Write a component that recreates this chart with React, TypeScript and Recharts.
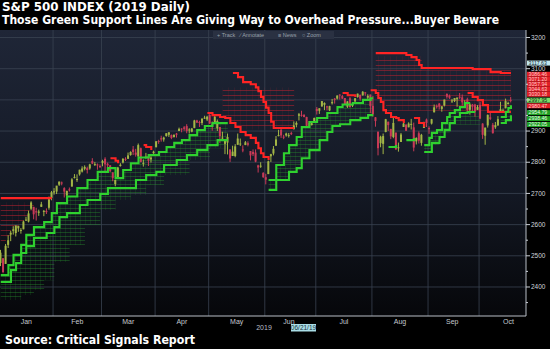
import {
  ComposedChart,
  Bar,
  Line,
  Area,
  XAxis,
  YAxis,
  CartesianGrid,
  ReferenceDot,
} from "recharts";

// x axis: trading-day index, Jan 2 2019 = 0 ... Oct 17 2019 = 200
const months = ["Jan", "Feb", "Mar", "Apr", "May", "Jun", "Jul", "Aug", "Sep", "Oct"];
const monthTicks = [10, 30, 50, 71, 92.5, 113, 134.5, 156.5, 177, 199];
const monthStarts = [20.5, 39.5, 60.5, 81.5, 103.5, 123.5, 145.5, 167.5, 187.5];
const priceTicks = [2350, 2400, 2450, 2500, 2550, 2600, 2650, 2700, 2750, 2800, 2850, 2900, 2950, 3000, 3050, 3100, 3150, 3200];
const gridLevels = [2400, 2500, 2600, 2700, 2800, 2900, 3000, 3100, 3200];

const open = [
  2477, 2492, 2474, 2535, 2568, 2580, 2573, 2588, 2580, 2585, 2614, 2610, 2651, 2657, 2643, 2638, 2657, 2644, 2644, 2654, 2685,
  2703, 2706, 2728, 2735, 2717, 2693, 2713, 2722, 2751, 2744, 2761, 2770, 2779, 2781, 2780, 2804, 2793, 2793, 2788,
  2798, 2811, 2795, 2790, 2767, 2730, 2747, 2788, 2799, 2811, 2811, 2823, 2841, 2831, 2819, 2845, 2797, 2813, 2820, 2809, 2829,
  2848, 2868, 2877, 2873, 2884, 2888, 2887, 2881, 2892, 2900, 2908, 2912, 2916, 2904, 2898, 2910, 2934, 2929, 2926, 2941, 2937,
  2952, 2922, 2929, 2909, 2913, 2879, 2859, 2863, 2841, 2820, 2820, 2856, 2859, 2841, 2855, 2861, 2836, 2833, 2831, 2790, 2786, 2766,
  2752, 2762, 2819, 2828, 2853, 2886, 2904, 2882, 2886, 2886, 2894, 2906, 2920, 2949, 2952, 2952, 2945, 2926, 2919, 2932,
  2971, 2965, 2979, 2984, 2979, 2966, 2989, 3004, 3004, 3017, 3012, 3006, 2978, 3005, 2982, 2995, 3009, 3016, 3014, 3024, 3007, 3017,
  2981, 2944, 2898, 2861, 2859, 2897, 2930, 2907, 2881, 2895, 2847, 2865, 2913, 2920, 2912, 2923, 2912, 2867, 2893, 2862, 2910, 2937,
  2910, 2924, 2960, 2980, 2988, 2971, 2982, 3019, 3013, 2996, 2996, 3002, 3010, 3008, 2983, 3002, 2968, 2985, 2985, 2968,
  2984, 2924, 2885, 2918, 2944, 2920, 2912, 2918, 2964, 2965, 2973, 2990, 3000,
];
const high = [
  2519, 2493, 2538, 2566, 2580, 2595, 2597, 2596, 2589, 2613, 2625, 2645, 2675, 2657, 2654, 2648, 2673, 2647, 2652, 2690, 2708,
  2717, 2724, 2738, 2738, 2720, 2709, 2719, 2749, 2762, 2761, 2776, 2787, 2790, 2786, 2795, 2813, 2801, 2796, 2793,
  2808, 2816, 2799, 2791, 2768, 2744, 2785, 2797, 2813, 2816, 2831, 2835, 2852, 2843, 2860, 2847, 2809, 2830, 2825, 2819, 2837,
  2868, 2872, 2885, 2882, 2893, 2896, 2889, 2889, 2894, 2911, 2909, 2916, 2922, 2909, 2910, 2936, 2936, 2933, 2940, 2949, 2949,
  2954, 2931, 2948, 2937, 2913, 2898, 2870, 2892, 2841, 2853, 2858, 2892, 2876, 2854, 2868, 2867, 2836, 2841, 2841, 2792, 2800, 2768,
  2763, 2805, 2827, 2852, 2884, 2904, 2910, 2888, 2895, 2894, 2898, 2931, 2931, 2958, 2965, 2954, 2946, 2932, 2929, 2943,
  2977, 2973, 2996, 2992, 2981, 2981, 3003, 3006, 3014, 3018, 3016, 3006, 2996, 3009, 2990, 3006, 3020, 3017, 3028, 3025, 3018, 3017,
  3013, 2945, 2898, 2885, 2892, 2939, 2930, 2907, 2943, 2895, 2863, 2894, 2932, 2923, 2928, 2939, 2927, 2880, 2899, 2891, 2930, 2940,
  2915, 2939, 2985, 2985, 2990, 2980, 3001, 3021, 3017, 3003, 3006, 3008, 3022, 3017, 2999, 3007, 2989, 2987, 2987, 2983,
  2993, 2925, 2911, 2953, 2959, 2926, 2929, 2948, 2994, 2972, 3004, 2994, 3009,
];
const low = [
  2467, 2444, 2474, 2525, 2547, 2568, 2562, 2577, 2571, 2585, 2612, 2607, 2647, 2617, 2613, 2628, 2657, 2627, 2634, 2648, 2678,
  2696, 2698, 2724, 2726, 2687, 2682, 2706, 2722, 2748, 2737, 2757, 2767, 2774, 2764, 2776, 2794, 2788, 2776, 2782,
  2787, 2767, 2784, 2769, 2739, 2723, 2747, 2786, 2796, 2804, 2811, 2821, 2823, 2818, 2817, 2800, 2786, 2812, 2788, 2799, 2827,
  2848, 2859, 2866, 2866, 2882, 2881, 2874, 2879, 2879, 2900, 2896, 2901, 2893, 2892, 2896, 2909, 2926, 2913, 2919, 2939, 2932,
  2923, 2901, 2929, 2900, 2862, 2870, 2826, 2825, 2801, 2820, 2816, 2856, 2852, 2832, 2855, 2851, 2806, 2820, 2800, 2767, 2782, 2750,
  2729, 2762, 2801, 2822, 2853, 2883, 2878, 2874, 2882, 2879, 2887, 2905, 2912, 2934, 2946, 2944, 2912, 2912, 2918, 2929,
  2953, 2955, 2978, 2967, 2966, 2964, 2985, 2988, 3001, 3001, 3003, 2984, 2974, 2975, 2977, 2988, 3007, 2997, 3014, 3013, 3001, 2958,
  2946, 2914, 2822, 2848, 2826, 2896, 2900, 2874, 2877, 2840, 2834, 2865, 2913, 2900, 2912, 2905, 2835, 2857, 2860, 2853, 2910, 2913,
  2891, 2921, 2960, 2972, 2969, 2962, 2979, 3004, 3003, 2990, 2993, 2978, 3003, 2982, 2982, 2957, 2953, 2963, 2946, 2968,
  2938, 2875, 2856, 2911, 2935, 2892, 2907, 2917, 2964, 2962, 2973, 2985, 2992,
];
const close = [
  2510, 2448, 2532, 2550, 2574, 2585, 2597, 2596, 2583, 2610, 2616, 2636, 2671, 2633, 2639, 2642, 2665, 2644, 2640, 2681, 2704,
  2707, 2725, 2738, 2732, 2706, 2708, 2710, 2745, 2753, 2746, 2776, 2780, 2785, 2775, 2793, 2796, 2794, 2792, 2784,
  2804, 2793, 2790, 2771, 2749, 2743, 2783, 2792, 2811, 2808, 2822, 2833, 2833, 2824, 2855, 2801, 2798, 2818, 2805, 2815, 2834,
  2867, 2867, 2873, 2879, 2893, 2896, 2878, 2888, 2888, 2907, 2906, 2907, 2900, 2905, 2908, 2934, 2927, 2926, 2940, 2943, 2946,
  2924, 2918, 2946, 2932, 2884, 2879, 2871, 2881, 2812, 2834, 2851, 2876, 2860, 2840, 2864, 2856, 2822, 2826, 2802, 2783, 2789, 2752,
  2744, 2803, 2826, 2843, 2873, 2887, 2886, 2880, 2892, 2887, 2890, 2918, 2926, 2954, 2950, 2945, 2917, 2914, 2925, 2942,
  2964, 2973, 2996, 2990, 2976, 2980, 2993, 3000, 3014, 3014, 3004, 2984, 2995, 2977, 2985, 3005, 3020, 3004, 3026, 3021, 3013, 2980,
  2954, 2932, 2845, 2882, 2884, 2938, 2919, 2883, 2926, 2841, 2848, 2889, 2924, 2901, 2924, 2923, 2847, 2878, 2869, 2888, 2925, 2926,
  2906, 2938, 2976, 2979, 2978, 2979, 3001, 3010, 3007, 2998, 3006, 3007, 3007, 2992, 2992, 2967, 2985, 2978, 2962, 2977,
  2940, 2888, 2911, 2952, 2939, 2893, 2919, 2938, 2970, 2966, 2996, 2990, 2998,
];

// support / resistance staircases as [day index, level] steps
const greenUpper1 = [[0, 2438], [3, 2470], [5, 2503], [8, 2535], [10, 2567], [13, 2592], [17, 2608], [20, 2637], [22, 2669], [26, 2690], [30, 2717], [34, 2743], [38, 2769], [42, 2781], [45, 2749], [48, 2775], [51, 2797], [54, 2815], [58, 2823], [62, 2833], [65, 2849], [68, 2862], [71, 2871], [74, 2887], [77, 2903], [80, 2916], [83, 2926], [89, 2926]];
const greenLower1 = [[0, 2416], [4, 2454], [6, 2477], [8, 2509], [10, 2531], [13, 2557], [18, 2573], [21, 2592], [23, 2624], [26, 2637], [31, 2663], [34, 2679], [39, 2698], [42, 2717], [53, 2743], [57, 2759], [61, 2769], [64, 2791], [69, 2807], [73, 2823], [77, 2839], [81, 2855], [85, 2871], [89, 2871]];
const greenFloor1 = [[0, 2358], [8, 2374], [13, 2390], [17, 2422], [21, 2480], [27, 2535], [33, 2599], [39, 2647], [45, 2679], [51, 2695], [57, 2727], [64, 2759], [74, 2807], [82, 2845], [89, 2862]];
const greenUpper2 = [[105, 2743], [108, 2791], [111, 2829], [113, 2855], [116, 2881], [118, 2913], [121, 2929], [124, 2942], [128, 2958], [132, 2977], [134, 2985], [138, 2990], [142, 3000], [145, 3005], [146, 3005]];
const greenLower2 = [[105, 2711], [108, 2743], [113, 2769], [116, 2781], [118, 2813], [121, 2839], [125, 2871], [128, 2897], [130, 2916], [133, 2922], [137, 2935], [141, 2942], [144, 2951], [146, 2951]];
const greenBitA = [[152, 2849], [155, 2855]];
const greenBitB = [[159, 2871], [162, 2878]];
const greenUpper3 = [[166, 2855], [168, 2878], [169, 2894], [171, 2903], [173, 2926], [175, 2945], [176, 2958], [178, 2967], [180, 2977], [182, 2990], [184, 2990]];
const greenLower3 = [[166, 2833], [169, 2862], [172, 2881], [174, 2903], [176, 2926], [178, 2945], [180, 2958], [183, 2961], [186, 2961]];
const greenMeshTop3 = [[166, 2855], [168, 2878], [169, 2894], [171, 2903], [173, 2926], [175, 2945], [176, 2958], [178, 2967], [180, 2977], [182, 2990], [184, 2958], [188, 2958]];
const greenMeshBot3 = [[166, 2830], [169, 2855], [172, 2875], [174, 2895], [176, 2915], [178, 2920], [188, 2920]];
const greenUpper4 = [[196, 2945], [198, 2961], [199, 2974], [200, 2983]];
const greenLower4 = [[196, 2926], [198, 2935], [200, 2951]];

const redTop0 = [[0, 2685], [20, 2685]];
const redMeshTop0 = [[0, 2672], [13, 2672]];
const redMeshBot0 = [[0, 2540], [2, 2560], [4, 2585], [7, 2605], [9, 2625], [11, 2645], [13, 2672]];
const redUpper1 = [[91, 3086], [93, 3073], [95, 3057], [98, 3050], [100, 3040], [101, 3028], [102, 3009], [103, 2993], [104, 2975], [105, 2958], [106, 2930], [107, 2910], [115, 2910]];
const redLower1 = [[81, 2958], [83, 2951], [86, 2945], [88, 2942], [90, 2926], [92, 2913], [94, 2897], [96, 2887], [98, 2878], [100, 2862], [101, 2845], [102, 2829], [103, 2817], [105, 2807]];
const redMeshTop1 = [[87, 3040], [115, 3030]];
const redMeshBot1 = [[87, 2945], [90, 2926], [92, 2913], [93, 2905], [115, 2905]];
const redBitA = [[43, 2813], [45, 2805], [46, 2797]];
const redBitB = [[56, 2855], [57, 2849], [59, 2839]];
const redBitC = [[134, 3022], [136, 3015], [139, 3009]];
const redBitD = [[162, 2942], [164, 2926], [166, 2913]];
const redUpper2 = [[147, 3150], [159, 3144], [161, 3137], [163, 3128], [164, 3112], [165, 3102], [185, 3099], [192, 3089], [196, 3086], [200, 3086]];
const redLower2 = [[145, 3031], [147, 3022], [148, 3006], [149, 2993], [150, 2967], [151, 2958], [153, 2945], [155, 2942], [156, 2935], [158, 2926]];
const redLower3 = [[183, 3022], [185, 3009], [187, 2999], [189, 2983], [191, 2961], [200, 2961]];
const redMeshTop2 = [[147, 3140], [165, 3095], [200, 3090]];
const redMeshBot2 = [[147, 3010], [149, 2985], [151, 2965], [200, 2965]];

// price tags stacked on the right edge
const tagText = ["3117.63", "3086.46", "3071.20", "3057.94", "3044.63", "3030.18", "2997.95", "2980.47", "2954.79", "2938.46", "2922.05"];
const tagAt = [3118, 3082, 3066, 3050, 3034, 3018, 2999, 2981, 2959, 2940, 2921];
const tagKind = ["last", "red", "red", "red", "red", "red", "price", "red", "green", "green", "green"];
const hiddenTickLabels = [3000];

const candles = close.map((c, i) => ({ i, open: open[i], high: high[i], low: low[i], close: c, hl: [low[i], high[i]] }));

const greenEdges = [greenUpper1, greenLower1, greenUpper2, greenLower2, greenBitA, greenBitB, greenUpper3, greenLower3, greenUpper4, greenLower4];
const greenMeshes = [[greenUpper1, greenFloor1], [greenUpper2, greenLower2], [greenMeshTop3, greenMeshBot3], [greenUpper4, greenLower4]];
const redEdges = [redTop0, redUpper1, redLower1, redBitA, redBitB, redBitC, redBitD, redUpper2, redLower2, redLower3];
const redMeshes = [[redMeshTop0, redMeshBot0], [redMeshTop1, redMeshBot1], [redMeshTop2, redMeshBot2]];

const X_MAX = 205.9;
const UP = "#a3b646";
const DOWN = "#c93a57";
const GREEN = "#2fd12f";
const RED = "#ff2424";
const AXIS_FONT = "Liberation Sans, Arial, sans-serif";

const pts = (p: number[][]) => p.map(([i, v]) => ({ i, v }));
const holdAt = (p: number[][], i: number) => {
  let v = p[0][1];
  for (const [j, w] of p) if (j <= i) v = w;
  return v;
};
const meshData = (top: number[][], bot: number[][]) => {
  const xs = Array.from(new Set([...top, ...bot].map((p) => p[0]))).sort((a, b) => a - b);
  return xs.map((i) => ({ i, r: [holdAt(bot, i), holdAt(top, i)] }));
};

function Candle(props: any) {
  const { x, y, width, height, payload } = props;
  if (!payload || height == null) return null;
  const top = Math.min(y, y + height);
  const h = Math.abs(height);
  const k = h / Math.max(payload.high - payload.low, 1);
  const cx = x + width / 2;
  const yo = top + (payload.high - payload.open) * k;
  const yc = top + (payload.high - payload.close) * k;
  const color = payload.close >= payload.open ? UP : DOWN;
  return (
    <g>
      <line x1={cx} x2={cx} y1={top} y2={top + h} stroke={color} strokeWidth={1} />
      <rect x={cx - 1} y={Math.min(yo, yc)} width={2} height={Math.max(Math.abs(yc - yo), 1)} fill={color} />
    </g>
  );
}

function YTick(props: any) {
  const { x, y, payload } = props;
  const major = payload.value % 100 === 0;
  const showLabel = major && !hiddenTickLabels.includes(payload.value);
  return (
    <g>
      <line x1={x} x2={x + (major ? 4 : 2)} y1={y} y2={y} stroke="#c9ced5" strokeWidth={1} />
      {showLabel && (
        <text x={x + 5} y={y + 2.2} fontSize={6.5} fill="#cfd4da" fontFamily={AXIS_FONT}>
          {payload.value}
        </text>
      )}
    </g>
  );
}

const tagStyle: Record<string, { bg: string; fg: string }> = {
  last: { bg: "#bfe6ee", fg: "#1a2a33" },
  red: { bg: "#e01f26", fg: "#ffc9c9" },
  price: { bg: "#7ee06a", fg: "#102010" },
  green: { bg: "#1f9e24", fg: "#e6ffe6" },
};

function PriceTag(props: any) {
  const { cx, cy, text, kind } = props;
  const s = tagStyle[kind];
  return (
    <g>
      <rect x={cx + 1} y={cy - 2.5} width={24} height={5} fill={s.bg} />
      <text x={cx + 2.5} y={cy + 1.8} fontSize={5.2} fill={s.fg} fontFamily={AXIS_FONT}>
        {text}
      </text>
    </g>
  );
}

export default function App() {
  return (
    <div style={{ position: "absolute", left: 0, top: 0, width: 550, height: 349, background: "#000", overflow: "hidden" }}>
      <ComposedChart width={550} height={349} data={candles} margin={{ top: 30, right: 0, left: 0, bottom: 15 }}>
        <defs>
          <linearGradient id="plotBg" x1="0" y1="0" x2="0" y2="1">
            <stop offset="0%" stopColor="#1f2637" />
            <stop offset="55%" stopColor="#141925" />
            <stop offset="100%" stopColor="#06070a" />
          </linearGradient>
          <pattern id="meshGreen" width="5" height="4" patternUnits="userSpaceOnUse">
            <path d="M0 0.5 H5" stroke="#27902a" strokeWidth={0.6} opacity={0.65} />
            <path d="M0.5 0 V4" stroke="#27902a" strokeWidth={0.5} opacity={0.35} />
          </pattern>
          <pattern id="meshRed" width="6" height="5" patternUnits="userSpaceOnUse">
            <path d="M0 0.5 H6" stroke="#b3202e" strokeWidth={0.7} opacity={0.8} />
            <path d="M0.5 0 V5" stroke="#b3202e" strokeWidth={0.4} opacity={0.3} />
          </pattern>
        </defs>
        <CartesianGrid
          horizontalValues={gridLevels}
          verticalValues={monthStarts}
          stroke="#3a4252"
          strokeWidth={0.8}
          fill="url(#plotBg)"
          fillOpacity={1}
        />
        <XAxis
          type="number"
          dataKey="i"
          domain={[-0.3, X_MAX]}
          allowDataOverflow
          ticks={monthTicks}
          interval={0}
          tickFormatter={(v) => months[monthTicks.indexOf(v)]}
          height={18}
          tickLine={false}
          tickSize={0}
          tickMargin={3}
          axisLine={{ stroke: "#b8bec6" }}
          tick={{ fontSize: 7, fill: "#c4c9cf", fontFamily: AXIS_FONT }}
        />
        <YAxis
          orientation="right"
          domain={[2307, 3224]}
          allowDataOverflow
          ticks={priceTicks}
          interval={0}
          width={24}
          tickLine={false}
          tickSize={0}
          tickMargin={0}
          axisLine={{ stroke: "#b8bec6" }}
          tick={<YTick />}
        />
        {redMeshes.map((m, k) => (
          <Area
            key={`rm${k}`}
            data={meshData(m[0], m[1])}
            dataKey="r"
            type="stepAfter"
            stroke="none"
            fill="url(#meshRed)"
            fillOpacity={1}
            isAnimationActive={false}
          />
        ))}
        {greenMeshes.map((m, k) => (
          <Area
            key={`gm${k}`}
            data={meshData(m[0], m[1])}
            dataKey="r"
            type="stepAfter"
            stroke="none"
            fill="url(#meshGreen)"
            fillOpacity={1}
            isAnimationActive={false}
          />
        ))}
        <Bar dataKey="hl" barSize={2} shape={<Candle />} isAnimationActive={false} />
        {redEdges.map((p, k) => (
          <Line
            key={`r${k}`}
            data={pts(p)}
            dataKey="v"
            type="stepAfter"
            stroke={RED}
            strokeWidth={2.1}
            dot={false}
            activeDot={false}
            isAnimationActive={false}
          />
        ))}
        {greenEdges.map((p, k) => (
          <Line
            key={`g${k}`}
            data={pts(p)}
            dataKey="v"
            type="stepAfter"
            stroke={GREEN}
            strokeWidth={2.1}
            dot={false}
            activeDot={false}
            isAnimationActive={false}
          />
        ))}
        {tagText.map((t, k) => (
          <ReferenceDot
            key={`t${k}`}
            x={X_MAX}
            y={tagAt[k]}
            r={0}
            ifOverflow="visible"
            shape={(p: any) => <PriceTag cx={p.cx} cy={p.cy} text={t} kind={tagKind[k]} />}
          />
        ))}
      </ComposedChart>
      <svg
        width={550}
        height={349}
        style={{ position: "absolute", left: 0, top: 0, pointerEvents: "none" }}
        fontFamily="DejaVu Sans, Verdana, sans-serif"
      >
        <text x={2} y={11} fontSize={11.5} fontWeight="bold" fill="#fff" textLength={188} lengthAdjust="spacingAndGlyphs">
          {"S&P 500 INDEX (2019 Daily)"}
        </text>
        <text x={2} y={24} fontSize={11.5} fontWeight="bold" fill="#fff" textLength={497} lengthAdjust="spacingAndGlyphs">
          Those Green Support Lines Are Giving Way to Overhead Pressure...Buyer Beware
        </text>
        <rect x={213} y={31} width={121} height={8} fill="#2a3142" />
        <g fontSize={5.5} fill="#98a0aa" fontFamily={AXIS_FONT}>
          <text x={217} y={37}>+ Track</text>
          <text x={240} y={37}>∕ Annotate</text>
          <text x={278} y={37}>≡ News</text>
          <text x={302} y={37}>○ Zoom</text>
        </g>
        <text x={264} y={330} fontSize={7} fill="#b8bec6" textAnchor="middle" fontFamily={AXIS_FONT}>
          2019
        </text>
        <rect x={291} y={324} width={25} height={7.5} fill="#a9dde6" />
        <text x={303.5} y={330} fontSize={6.5} fill="#17323a" textAnchor="middle" fontFamily={AXIS_FONT}>
          06/21/19
        </text>
        <text x={5} y={344} fontSize={12} fontWeight="bold" fill="#fff" textLength={190} lengthAdjust="spacingAndGlyphs">
          Source: Critical Signals Report
        </text>
      </svg>
    </div>
  );
}
